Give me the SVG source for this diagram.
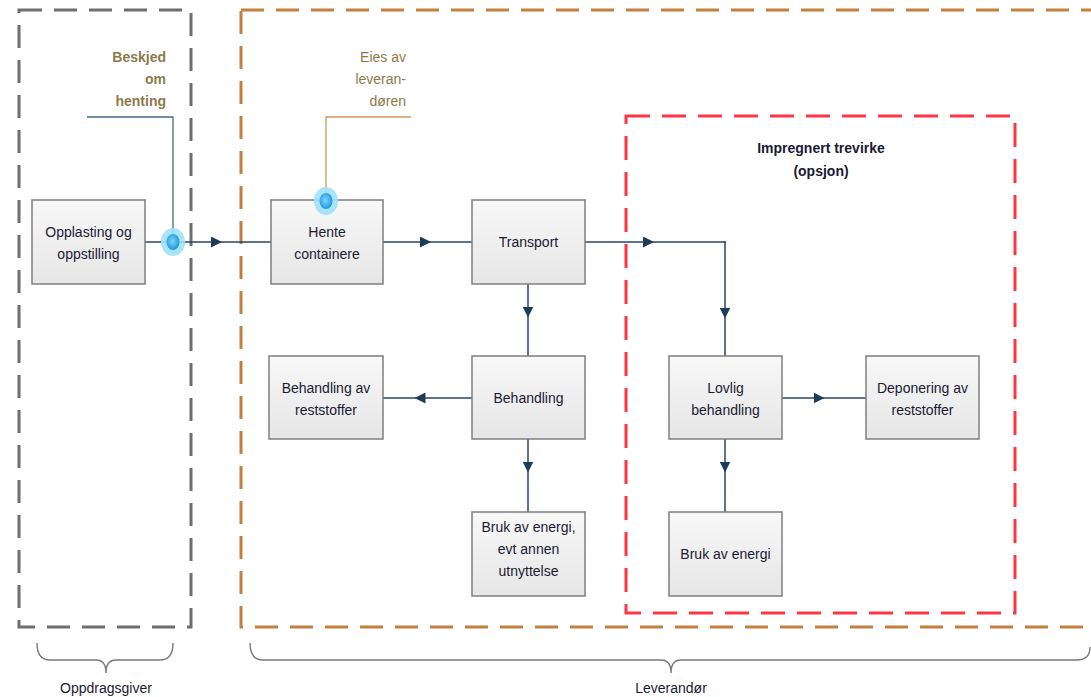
<svg xmlns="http://www.w3.org/2000/svg" width="1091" height="697" viewBox="0 0 1091 697">
<style>
.box{fill:url(#bg);stroke:#7f7f7f;stroke-width:1.5}
.t{font-family:"Liberation Sans",Arial,sans-serif;font-size:14px;fill:#1a1a33;text-anchor:middle}
.c{fill:none;stroke:#2b4566;stroke-width:1.5}
.call{font-family:"Liberation Sans",Arial,sans-serif;font-size:14px;fill:#8c7a4c;text-anchor:end}
.brace{fill:none;stroke:#7a7a7a;stroke-width:1.4}
</style>
<defs>
<linearGradient id="bg" x1="0" y1="0" x2="0" y2="1">
<stop offset="0" stop-color="#f8f8f8"/>
<stop offset="1" stop-color="#e6e6e6"/>
</linearGradient>
<radialGradient id="dot" cx="0.45" cy="0.45" r="0.6">
<stop offset="0" stop-color="#7fd6fa"/>
<stop offset="1" stop-color="#1594dc"/>
</radialGradient>
<marker id="arr" viewBox="0 0 11 11" refX="5.5" refY="5.5" markerWidth="11" markerHeight="11" markerUnits="userSpaceOnUse" orient="auto">
<path d="M0,0 L11,5.5 L0,11 Z" fill="#1f3b5c"/>
</marker>
</defs>
<rect width="1091" height="697" fill="#ffffff"/>

<g id="groups">
<rect x="19" y="10" width="172" height="617" fill="none" stroke="#6e6e6e" stroke-width="3" stroke-dasharray="23 12"/>
<rect x="241" y="10" width="900" height="617" fill="none" stroke="#c47e3e" stroke-width="3" stroke-dasharray="23 12"/>
<rect x="626" y="116" width="389" height="497" fill="none" stroke="#ff3444" stroke-width="3" stroke-dasharray="24 12"/>
<text class="t" font-weight="bold" x="821" y="153">Impregnert trevirke</text>
<text class="t" font-weight="bold" x="821" y="176">(opsjon)</text>
</g>

<g id="connectors">
<path class="c" d="M145,242 L216.5,242 L271,242" marker-mid="url(#arr)"/>
<path class="c" d="M383,242 L425.5,242 L472,242" marker-mid="url(#arr)"/>
<path class="c" d="M585,242 L648.5,242 L725.75,242" marker-mid="url(#arr)"/>
<path class="c" d="M725,241.25 L725,313 L725,356" marker-mid="url(#arr)"/>
<path class="c" d="M528,284 L528,312 L528,356" marker-mid="url(#arr)"/>
<path class="c" d="M472,398 L420,398 L383,398" marker-mid="url(#arr)"/>
<path class="c" d="M528,439 L528,467 L528,512" marker-mid="url(#arr)"/>
<path class="c" d="M782,398 L819,398 L866,398" marker-mid="url(#arr)"/>
<path class="c" d="M725,439 L725,467 L725,512" marker-mid="url(#arr)"/>
</g>

<g id="n-opplasting">
<rect class="box" x="32" y="200" width="113" height="84"/>
<text class="t" x="88.5" y="237">Opplasting og</text>
<text class="t" x="88.5" y="259">oppstilling</text>
</g>
<g id="n-hente">
<rect class="box" x="271" y="200" width="112" height="84"/>
<text class="t" x="327" y="237">Hente</text>
<text class="t" x="327" y="259">containere</text>
</g>
<g id="n-transport">
<rect class="box" x="472" y="200" width="113" height="84"/>
<text class="t" x="528.5" y="247">Transport</text>
</g>
<g id="n-behandling-rest">
<rect class="box" x="269" y="356" width="114" height="83"/>
<text class="t" x="326" y="393">Behandling av</text>
<text class="t" x="326" y="415">reststoffer</text>
</g>
<g id="n-behandling">
<rect class="box" x="472" y="356" width="113" height="83"/>
<text class="t" x="528.5" y="403">Behandling</text>
</g>
<g id="n-bruk-energi-annen">
<rect class="box" x="472" y="512" width="113" height="84"/>
<text class="t" x="528.5" y="532">Bruk av energi,</text>
<text class="t" x="528.5" y="554">evt annen</text>
<text class="t" x="528.5" y="576">utnyttelse</text>
</g>
<g id="n-lovlig">
<rect class="box" x="669" y="356" width="113" height="83"/>
<text class="t" x="725.5" y="393">Lovlig</text>
<text class="t" x="725.5" y="415">behandling</text>
</g>
<g id="n-deponering">
<rect class="box" x="866" y="356" width="113" height="83"/>
<text class="t" x="922.5" y="393">Deponering av</text>
<text class="t" x="922.5" y="415">reststoffer</text>
</g>
<g id="n-bruk-energi">
<rect class="box" x="669" y="512" width="113" height="84"/>
<text class="t" x="725.5" y="559">Bruk av energi</text>
</g>

<g id="callouts">
<path d="M87,117 L173,117 L173,242" fill="none" stroke="#4b6788" stroke-width="1.3"/>
<path d="M411,117 L326,117 L326,200" fill="none" stroke="#d4955e" stroke-width="1.3"/>
<text class="call" font-weight="bold" x="166" y="62">Beskjed</text>
<text class="call" font-weight="bold" x="166" y="84">om</text>
<text class="call" font-weight="bold" x="166" y="106">henting</text>
<text class="call" x="406" y="62" font-size="15" fill="#86724a">Eies av</text>
<text class="call" x="406" y="84" font-size="15" fill="#86724a">leveran-</text>
<text class="call" x="406" y="106" font-size="15" fill="#86724a">døren</text>
<ellipse cx="173" cy="242" rx="12" ry="14" fill="#9fe2fb" opacity="0.9"/>
<ellipse cx="173" cy="242" rx="6.5" ry="8" fill="url(#dot)"/>
<ellipse cx="326" cy="201" rx="12" ry="14" fill="#9fe2fb" opacity="0.9"/>
<ellipse cx="326" cy="201" rx="6.5" ry="8" fill="url(#dot)"/>
</g>

<g id="braces">
<path class="brace" d="M37,643 Q37,660 50,660 L96,660 Q106,660 106,673 Q106,660 116,660 L160,660 Q173,660 173,643"/>
<path class="brace" d="M250,643 Q250,660 263,660 L661,660 Q671,660 671,673 Q671,660 681,660 L1077,660 Q1090,660 1090,647"/>
<text class="t" x="106" y="693">Oppdragsgiver</text>
<text class="t" x="671" y="693">Leverandør</text>
</g>
</svg>
